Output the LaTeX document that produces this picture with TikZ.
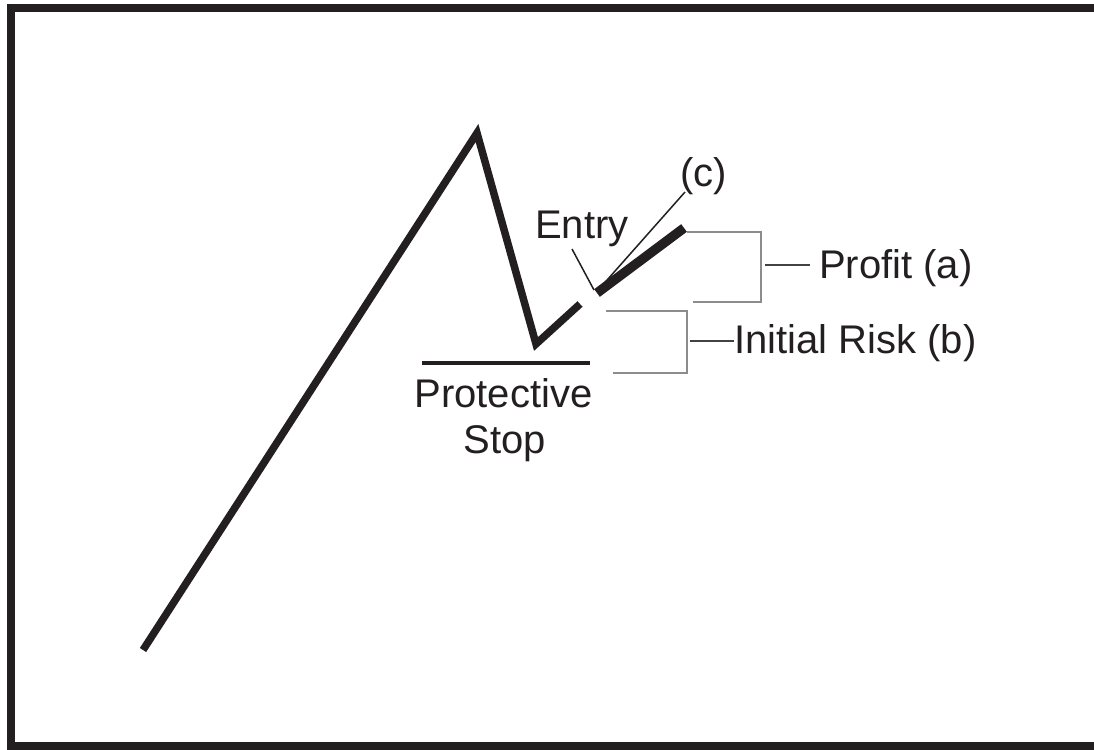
\documentclass[tikz,border=0pt]{standalone}
\usepackage{fontspec}
\setmainfont{Liberation Sans}
\definecolor{ink}{HTML}{231F20}
\definecolor{brk}{HTML}{8C8C8C}
\begin{document}
\begin{tikzpicture}[x=1pt,y=-1pt,
  lbl/.style={inner sep=0pt, font=\fontsize{40}{44}\selectfont, text=ink},
  price/.style={draw=ink, line width=7.5pt, line join=miter, miter limit=20},
  thickseg/.style={draw=ink, line width=9.5pt},
  bracket/.style={draw=brk, line width=2pt},
  tick/.style={draw=ink!85, line width=1.6pt},
  pointer/.style={draw=ink, line width=1.5pt}]
\clip (0,0) rectangle (1094,749);
\useasboundingbox (0,0) rectangle (1094,749);
\fill[white] (0,0) rectangle (1094,749);
% frame
\draw[ink, line width=8pt] (11,8) rectangle (1110,746);
% price path
\coordinate (start) at (143,650);
\coordinate (peak) at (477,133);
\coordinate (trough) at (536,344);
\coordinate (gapA) at (580,304);
\coordinate (entryPt) at (597,293);
\coordinate (last) at (684,228);
\draw[price] (start) -- (peak) -- (trough) -- (gapA);
\draw[thickseg] (entryPt) -- (last);
% protective stop
\coordinate (stopL) at (422,363);
\coordinate (stopR) at (590,363);
\draw[draw=ink, line width=4.5pt] (stopL) -- (stopR);
\node[lbl, anchor=base] (prot) at (503.5,407) {Protective};
\node[lbl, anchor=base] (stop) at (505,453) {Stop};
% entry label
\node[lbl, anchor=base west] (entry) at (535,238) {Entry};
\coordinate (entryTail) at (572,249);
\coordinate (entryTip) at (594,290);
\draw[pointer] (entryTail) -- (entryTip);
% (c) label
\node[lbl, anchor=base west] (c) at (680,186) {(c)};
\coordinate (cTail) at (685,192);
\coordinate (cTip) at (600,288);
\draw[pointer] (cTail) -- (cTip);
% profit bracket
\coordinate (pTop) at (687,232);
\coordinate (pTopR) at (761,232);
\coordinate (pBotR) at (761,302);
\coordinate (pBot) at (693,302);
\draw[bracket] (pTop) -- (pTopR) -- (pBotR) -- (pBot);
\node[lbl, anchor=base west] (profit) at (819,278) {Profit (a)};
\coordinate (pTick1) at (765,265);
\coordinate (pTick2) at (810,265);
\draw[tick] (pTick1) -- (pTick2);
% risk bracket
\coordinate (rTop) at (606,311);
\coordinate (rTopR) at (687,311);
\coordinate (rBotR) at (687,373);
\coordinate (rBot) at (613,373);
\draw[bracket] (rTop) -- (rTopR) -- (rBotR) -- (rBot);
\node[lbl, anchor=base west] (risk) at (734,353) {Initial Risk (b)};
\coordinate (rTick1) at (690,341);
\draw[tick] (rTick1) -- (risk.west |- rTick1);
\end{tikzpicture}
\end{document}
